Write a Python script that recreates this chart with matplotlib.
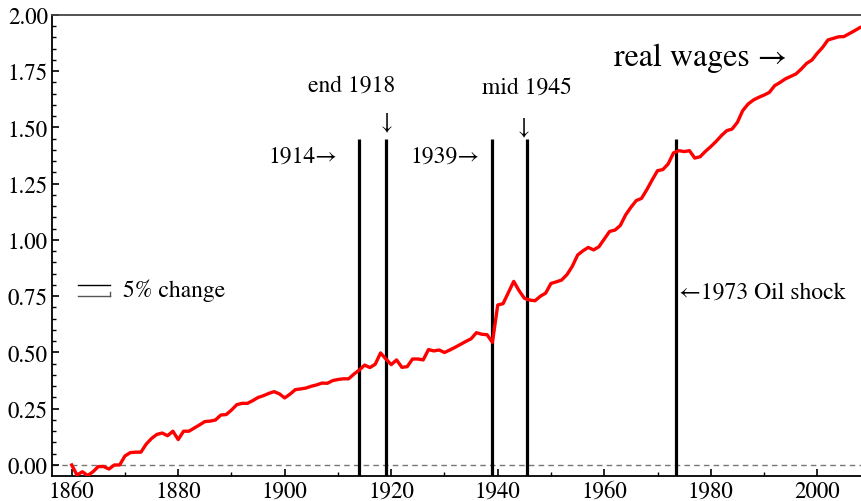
import matplotlib
matplotlib.use("Agg")
import matplotlib.pyplot as plt
from matplotlib.ticker import MultipleLocator, FormatStrFormatter

plt.rcParams['font.family'] = ['STIXGeneral', 'Liberation Serif', 'DejaVu Serif']

years = list(range(1860, 2009))
real_wages = [
    0.000, -0.045, -0.030, -0.047, -0.030, -0.007, -0.007, -0.018, 0.000, 0.000,   # 1860-1869
    0.040, 0.055, 0.057, 0.057, 0.093, 0.118, 0.136, 0.142, 0.130, 0.150,         # 1870-1879
    0.113, 0.150, 0.150, 0.164, 0.178, 0.193, 0.195, 0.200, 0.222, 0.224,         # 1880-1889
    0.244, 0.268, 0.274, 0.274, 0.286, 0.300, 0.308, 0.318, 0.326, 0.316,         # 1890-1899
    0.298, 0.315, 0.335, 0.338, 0.342, 0.350, 0.356, 0.364, 0.363, 0.375,         # 1900-1909
    0.380, 0.383, 0.383, 0.404, 0.422, 0.444, 0.433, 0.448, 0.498, 0.471,         # 1910-1919
    0.446, 0.467, 0.434, 0.437, 0.471, 0.471, 0.467, 0.513, 0.507, 0.511,         # 1920-1929
    0.500, 0.511, 0.523, 0.536, 0.549, 0.561, 0.588, 0.581, 0.579, 0.545,         # 1930-1939
    0.711, 0.717, 0.767, 0.816, 0.775, 0.741, 0.733, 0.730, 0.750, 0.764,         # 1940-1949
    0.807, 0.814, 0.822, 0.846, 0.883, 0.933, 0.952, 0.967, 0.956, 0.970,         # 1950-1959
    1.004, 1.038, 1.044, 1.064, 1.111, 1.145, 1.175, 1.185, 1.224, 1.267,         # 1960-1969
    1.308, 1.313, 1.338, 1.387, 1.397, 1.393, 1.397, 1.364, 1.370, 1.394,         # 1970-1979
    1.415, 1.438, 1.464, 1.486, 1.493, 1.523, 1.575, 1.604, 1.622, 1.634,         # 1980-1989
    1.644, 1.656, 1.686, 1.700, 1.716, 1.727, 1.738, 1.760, 1.785, 1.800,         # 1990-1999
    1.830, 1.856, 1.889, 1.896, 1.903, 1.904, 1.917, 1.930, 1.944,                # 2000-2008
]

event_years = [1914, 1919, 1939, 1945.5, 1973.5]
event_top = 1.45

x_ticks = [1860, 1880, 1900, 1920, 1940, 1960, 1980, 2000]
y_ticks = [0.00, 0.25, 0.50, 0.75, 1.00, 1.25, 1.50, 1.75, 2.00]

W, H = 862, 502
fig = plt.figure(figsize=(W / 100, H / 100), dpi=100)
ax = fig.add_axes([52 / W, (H - 477) / H, (W - 52) / W, (477 - 16) / H])

ax.set_xlim(1856.3, 2008.4)
ax.set_ylim(-0.049, 2.0)

ax.axhline(0, color='#777777', lw=1.0, ls=(0, (4, 3)), zorder=1)
for ey in event_years:
    ax.plot([ey, ey], [-0.049, event_top], color='black', lw=2.3, zorder=2, solid_capstyle='butt')

ax.plot(years, real_wages, color='#ff0000', lw=2.4, zorder=3)

# 5% change bracket
ax.plot([1861.2, 1867.2], [0.80, 0.80], color='black', lw=1.0)
ax.plot([1861.2, 1867.2], [0.75, 0.75], color='#555555', lw=1.0)
ax.plot([1867.2, 1867.2], [0.75, 0.77], color='#555555', lw=1.0)
ax.text(1869.7, 0.78, '5% change', fontsize=17, va='center', ha='left')

ax.text(1978.1, 1.813, 'real wages \u2192', fontsize=23, ha='center', va='center')
ax.text(1912.6, 1.69, 'end 1918', fontsize=17, ha='center', va='center')
ax.text(1919.2, 1.524, '\u2193', fontsize=17, ha='center', va='center')
ax.text(1945.4, 1.68, 'mid 1945', fontsize=17, ha='center', va='center')
ax.text(1944.9, 1.502, '\u2193', fontsize=17, ha='center', va='center')
ax.text(1909.8, 1.373, '1914\u2192', fontsize=17, ha='right', va='center')
ax.text(1936.6, 1.373, '1939\u2192', fontsize=17, ha='right', va='center')
ax.text(1974.0, 0.769, '\u21901973 Oil shock', fontsize=17, ha='left', va='center')

ax.set_xticks(x_ticks)
ax.set_yticks(y_ticks)
ax.xaxis.set_minor_locator(MultipleLocator(10))
ax.yaxis.set_minor_locator(MultipleLocator(0.05))
ax.yaxis.set_major_formatter(FormatStrFormatter('%.2f'))
ax.tick_params(which='major', direction='in', length=5, width=1.2, labelsize=16.5, pad=3)
ax.tick_params(which='minor', direction='in', length=3, width=1.0)
ax.spines['right'].set_visible(False)
for s in ['left', 'bottom', 'top']:
    ax.spines[s].set_linewidth(1.3)
ax.spines['top'].set_color('#444444')

fig.savefig('out.png', dpi=100)
